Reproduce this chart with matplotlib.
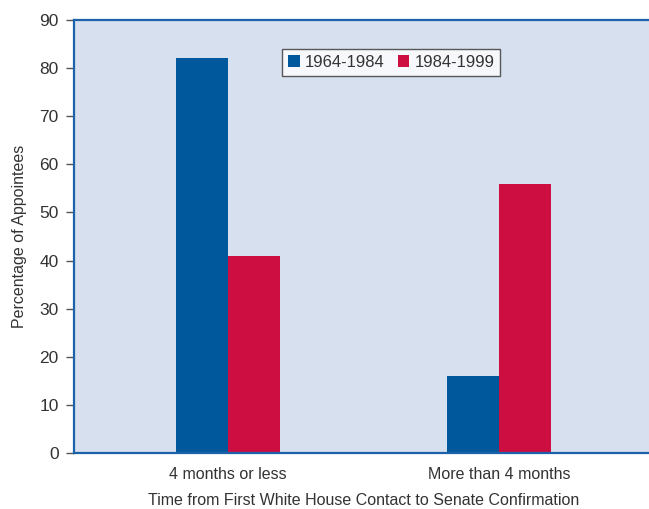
import matplotlib
matplotlib.use("Agg")
import matplotlib.pyplot as plt
import numpy as np
from matplotlib import font_manager

names = {f.name for f in font_manager.fontManager.ttflist}
family = "Liberation Sans Narrow" if "Liberation Sans Narrow" in names else "Liberation Sans"
plt.rcParams["font.family"] = [family, "DejaVu Sans"]

categories = ["4 months or less", "More than 4 months"]
series_names = ["1964-1984", "1984-1999"]
values_1964_1984 = [82, 16]
values_1984_1999 = [41, 56]
yticks = [0, 10, 20, 30, 40, 50, 60, 70, 80, 90]

blue = "#00589c"
red = "#cc0f40"
bg = "#d7e0ee"
spine_blue = "#1b62ab"
text_col = "#333333"

fig = plt.figure(figsize=(6.49, 5.09), dpi=100)
ax = fig.add_axes([74 / 649, 1 - 453 / 509, (653 - 74) / 649, (453 - 20) / 509])
ax.set_facecolor(bg)

x = np.arange(len(categories))
w = 0.192
ax.bar(x - w / 2, values_1964_1984, w, color=blue, label=series_names[0], zorder=2)
ax.bar(x + w / 2, values_1984_1999, w, color=red, label=series_names[1], zorder=2)

ax.set_xlim(-0.568, 1.568)
ax.set_ylim(0, 90)
ax.set_yticks(yticks)
ax.set_xticks(x)
ax.set_xticklabels(categories)
ax.tick_params(axis="y", length=6, width=1, color="#555555", labelsize=12.5,
               labelcolor=text_col, pad=5, direction="out")
ax.tick_params(axis="x", length=0, labelsize=11.5, labelcolor=text_col, pad=10)

for side in ["left", "top", "bottom"]:
    ax.spines[side].set_color(spine_blue)
    ax.spines[side].set_linewidth(1.6)
ax.spines["right"].set_visible(False)

ax.set_xlabel("Time from First White House Contact to Senate Confirmation",
              fontsize=11.5, color=text_col, labelpad=8)
ax.set_ylabel("Percentage of Appointees", fontsize=11.5, color=text_col, labelpad=9)

leg = ax.legend(loc="upper left", bbox_to_anchor=((282 - 74) / 579, 1 - (49 - 20) / 433),
                ncol=2, frameon=True, fancybox=False, fontsize=12,
                handlelength=0.7, handleheight=0.7, handletextpad=0.3,
                columnspacing=0.8, borderpad=0.35, borderaxespad=0)
leg.get_frame().set_edgecolor("#333333")
leg.get_frame().set_linewidth(1.0)
for t in leg.get_texts():
    t.set_color(text_col)

fig.savefig("out.png", dpi=100)
